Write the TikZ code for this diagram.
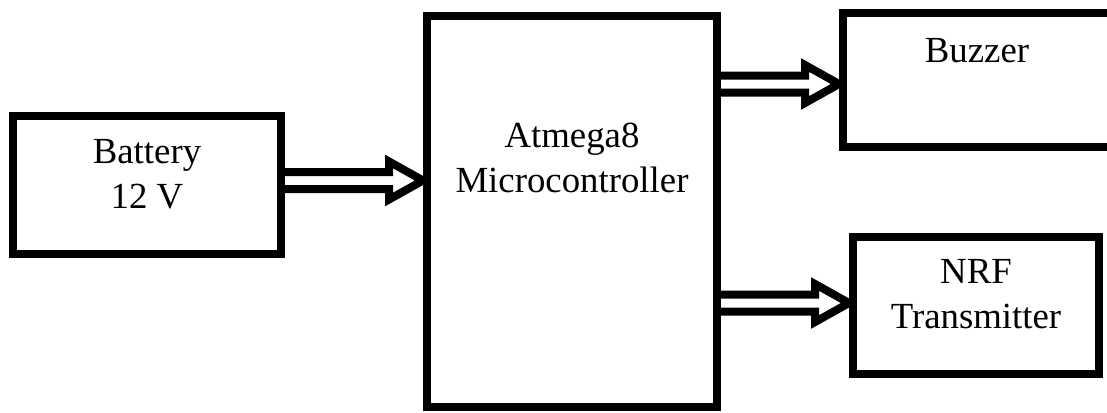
\documentclass[tikz,border=0pt]{standalone}
\usepackage{fontspec}
\setmainfont{Liberation Serif}
\usetikzlibrary{calc}
\definecolor{DiagBlack}{HTML}{000000}
\tikzset{
    box/.style={
        draw=DiagBlack,
        line width=4pt,
        inner sep=0pt
    },
    boxtext/.style={
        text=DiagBlack,
        font=\fontsize{18.4}{22.5}\selectfont,
        align=center,
        anchor=base,
        inner sep=0pt
    },
    dblarrow/.style={
        draw=DiagBlack,
        line width=4pt,
        line join=miter,
        miter limit=10,
        to path={
            ($(\tikztostart)+(0,-8.5)$) -- ($(\tikztotarget)+(-34,-8.5)$)
            -- ($(\tikztotarget)+(-34,-19)$) -- (\tikztotarget)
            -- ($(\tikztotarget)+(-34,19)$) -- ($(\tikztotarget)+(-34,8.5)$)
            -- ($(\tikztostart)+(0,8.5)$)
        }
    }
}

\begin{document}
\begin{tikzpicture}[x=0.5pt, y=-0.5pt]
        \useasboundingbox (0,0) rectangle (1107,412);

        % Battery
        \node[box, minimum width=134pt, minimum height=69pt] (battery) at (147,185) {};
        \node[boxtext] (batterytext) at (147,208) {Battery\\12 V};

        % Microcontroller
        \node[box, minimum width=145pt, minimum height=195.5pt] (micro) at (572,211.5) {};
        \node[boxtext] (microtext) at (572,192) {Atmega8\\Microcontroller};

        % Buzzer (right side runs off the page)
        \node[box, minimum width=138.5pt, minimum height=67pt] (buzzer) at (981.5,80) {};
        \node[boxtext] (buzzertext) at (977,62) {Buzzer};

        % NRF transmitter
        \node[box, minimum width=123pt, minimum height=68.5pt] (nrf) at (976,305.5) {};
        \node[boxtext] (nrftext) at (976,328) {NRF\\Transmitter};

        % Arrows
        \draw[dblarrow] ($(battery.east)+(0,-4.5)$) to ($(micro.west |- battery.east)+(0,-4.5)$);
        \draw[dblarrow] ($(micro.east |- buzzer.west)+(0,4)$) to ($(buzzer.west)+(0,4)$);
        \draw[dblarrow] ($(micro.east |- nrf.west)+(0,-2.5)$) to ($(nrf.west)+(0,-2.5)$);
\end{tikzpicture}
\end{document}
